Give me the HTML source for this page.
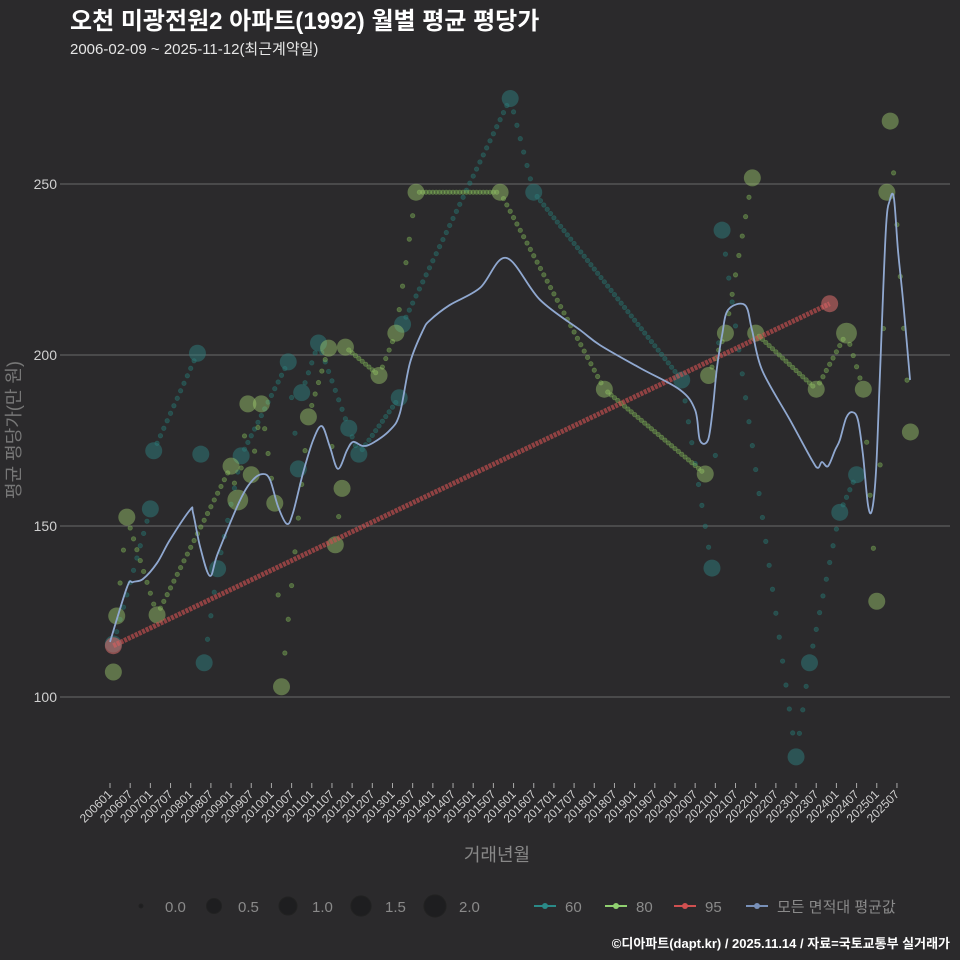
<!DOCTYPE html>
<html><head><meta charset="utf-8">
<style>
body{margin:0;background:#2b2a2c;}
svg{display:block;font-family:"Liberation Sans","Noto Sans CJK KR",sans-serif;}
</style></head>
<body>
<svg id="chart" width="960" height="960" viewBox="0 0 960 960">
<rect width="960" height="960" fill="#2b2a2c"/>
<text x="70" y="29" fill="#ffffff" font-size="24" font-weight="bold">오천 미광전원2 아파트(1992) 월별 평균 평당가</text>
<text x="70" y="54" fill="#e6e6e6" font-size="15">2006-02-09 ~ 2025-11-12(최근계약일)</text>
<g id="grid"></g>
<g id="yticks"></g>
<g id="xticks"></g>
<g id="series"></g>
<text transform="translate(20,430) rotate(-90)" text-anchor="middle" fill="#777" font-size="18">평균 평당가(만 원)</text>
<text x="497" y="861" text-anchor="middle" fill="#888" font-size="18">거래년월</text>
<g id="legend"></g>
<text x="950" y="948" text-anchor="end" fill="#ffffff" font-size="13" font-weight="bold">©디아파트(dapt.kr) / 2025.11.14 / 자료=국토교통부 실거래가</text>
</svg>
<script>
const yTicks=[100,150,200,250];
const xTickLabels=[];
for(let y=2006;y<=2025;y++){xTickLabels.push(y+"01");xTickLabels.push(y+"07");}
const s60Month=[1,12,13,26,27,28,32,39,53,56,57,62,71,74,86,87,119,126,170,179,182,204,208,217,222];
const s60Value=[115.5,155,172,200.5,171,110,137.5,170.5,198,166.7,189,203.5,178.6,171,187.5,209,275,247.6,192.7,137.7,236.5,82.5,110,154,165];
const s60Size=[1,1,1,1,1,1,1,1,1,1,1,1,1,1,1,1,1,1,1,1,1,1,1,1,1];
const s80Month=[1,2,5,14,36,38,41,42,45,49,51,59,65,67,69,70,80,85,91,116,147,177,178,183,191,192,210,219,224,228,231,232,238];
const s80Value=[107.3,123.7,152.6,124,167.5,157.6,185.7,165,185.7,156.7,103,181.9,202,144.5,161,202.3,194,206.4,247.6,247.6,190,165.2,194,206.4,251.8,206.4,190,206.4,190,128,247.6,268.4,177.5];
const s80Size=[1,1,1,1,1,1.5,1,1,1,1,1,1,1,1,1,1,1,1,1,1,1,1,1,1,1,1,1,1.5,1,1,1,1,1];
const s95Month=[1,214];
const s95Value=[115,215];
const s95Size=[1,1];
const avgMonth=[0,5.1,6.8,9.8,14,17.8,23.8,24.7,26.8,29.7,32.1,38.7,42.5,45.5,47.6,50,52.6,54.4,57.4,60.4,63,65.4,67.8,70.5,72.3,75.2,78.2,83.3,86.2,89.2,93.1,95.2,101,110,117.8,127.9,139.8,145.7,157.6,169.5,174,175.4,177.8,179.2,180.4,182,183.8,188.8,190.9,193.9,202.2,208.7,210.5,211.7,213.5,215.6,217,218.9,220.7,222.4,223.9,225.4,226.6,227.8,229,230.7,231.9,233.1,234.3,235.8,237.9];
const avgValue=[116.1,132.2,133.6,134.5,139.2,145.9,154.7,153.8,143.9,135.4,142.1,157.6,163.5,165.2,163.5,155.6,150.6,153.8,165.5,175.1,179.2,173.1,166.7,172.2,174.6,173.4,174.3,178.1,183.0,197.7,207.3,210.2,214.6,219.6,228.4,216.1,207.3,202.9,196.2,189.8,183.9,175.1,175.1,183.9,195.6,205.8,213.2,214.6,207.3,195.6,181.0,169.3,167.0,168.7,167.5,172.2,175.1,181.6,183.3,181.0,170.8,156.1,154.7,166.4,195.6,236.5,245.3,245.9,230.7,216.1,192.7];

const NS="http://www.w3.org/2000/svg";
const X=m=>110+3.363*m;
const Y=v=>184+(250-v)*3.42;
function mk(tag,attrs,parent){const e=document.createElementNS(NS,tag);for(const k in attrs)e.setAttribute(k,attrs[k]);parent.appendChild(e);return e;}
const grid=document.getElementById('grid'),yt=document.getElementById('yticks'),xt=document.getElementById('xticks'),ser=document.getElementById('series'),leg=document.getElementById('legend');
yTicks.forEach(v=>{
  const l=mk('line',{x1:60,x2:950,y1:Y(v),y2:Y(v),stroke:'#5e5e5e','stroke-width':1.2},grid);
  
  
  const t=mk('text',{x:57,y:Y(v)+5,'text-anchor':'end',fill:'#d0d0d0','font-size':14},yt);
  t.textContent=v;
  
  
});
xTickLabels.forEach((lab,i)=>{
  const x=X(i*6);
  const tk=mk('line',{x1:x,x2:x,y1:783,y2:788,stroke:'#aaa'},xt);
  
  
  const t=mk('text',{x:x+3,y:795,'text-anchor':'end',fill:'#d0d0d0','font-size':12,transform:`rotate(-45 ${x+3} 795)`},xt);
  t.textContent=lab;
  
  
});
function drawSeries(name,ms,vs,ss,col,dotCol,dotR){
  const g=mk('g',{},ser);
  
  
  for(let i=0;i<ms.length-1;i++){
    const n=Math.max(1,Math.round(ms[i+1]-ms[i]));
    for(let k=1;k<n;k++){
      const m=ms[i]+(ms[i+1]-ms[i])*k/n,v=vs[i]+(vs[i+1]-vs[i])*k/n;
      const d=mk('circle',{cx:X(m),cy:Y(v),r:dotR,fill:dotCol,stroke:dotCol,'stroke-width':0.8},g);
      
      
    }
  }
  ms.forEach((m,i)=>{
    const c=mk('circle',{cx:X(m),cy:Y(vs[i]),r:8.5*Math.sqrt(ss[i]),fill:col},g);
    
    
  });
}
drawSeries('60',s60Month,s60Value,s60Size,'rgba(45,125,125,0.5)','rgba(40,120,115,0.45)',2.2);
drawSeries('80',s80Month,s80Value,s80Size,'rgba(160,205,110,0.45)','rgba(130,185,90,0.42)',2.2);
(function(){
  const g=mk('g',{},ser);
  
  
  const ln=mk('line',{x1:X(s95Month[0]),y1:Y(s95Value[0]),x2:X(s95Month[1]),y2:Y(s95Value[1]),stroke:'rgba(200,80,80,0.65)','stroke-width':5,'stroke-dasharray':'3 1'},g);
  
  
  s95Month.forEach((m,i)=>{
    const c=mk('circle',{cx:X(m),cy:Y(s95Value[i]),r:8.5,fill:'rgba(220,110,110,0.55)'},g);
    
    
  });
})();
(function(){
  const p=avgMonth.map((m,i)=>[X(m),Y(avgValue[i])]);
  let d=`M${p[0][0]},${p[0][1]}`;
  for(let i=0;i<p.length-1;i++){
    const p0=p[i-1]||p[i],p1=p[i],p2=p[i+1],p3=p[i+2]||p2;
    d+=` C${p1[0]+(p2[0]-p0[0])/6},${p1[1]+(p2[1]-p0[1])/6} ${p2[0]-(p3[0]-p1[0])/6},${p2[1]-(p3[1]-p1[1])/6} ${p2[0]},${p2[1]}`;
  }
  const a=mk('path',{d:d,fill:'none',stroke:'#90a8d0','stroke-width':1.8},ser);
  
  
})();
const sizeKeys=[0,0.5,1,1.5,2];
const sizeX=[141,214,288,361,435];
sizeKeys.forEach((s,i)=>{
  const c=mk('circle',{cx:sizeX[i],cy:906,r:s===0?2:4+5*Math.sqrt(s),fill:'#1e1e20',stroke:'#222'},leg);
  
  
  const t=mk('text',{x:sizeX[i]+24,y:912,fill:'#8a8a8a','font-size':15},leg);
  t.textContent=s.toFixed(1);
  
  
});
const lineKeys=[['60','#2a8a88',545],['80','#90d070',616],['95','#d05050',685],['모든 면적대 평균값','#7890b8',757]];
lineKeys.forEach(k=>{
  const l=mk('line',{x1:k[2]-11,x2:k[2]+11,y1:906,y2:906,stroke:k[1],'stroke-width':2},leg);
  
  
  const c=mk('circle',{cx:k[2],cy:906,r:3,fill:k[1]},leg);
  
  
  const t=mk('text',{x:k[2]+20,y:912,fill:'#8a8a8a','font-size':15},leg);
  t.textContent=k[0];
  
  
});
</script>
</body></html>
